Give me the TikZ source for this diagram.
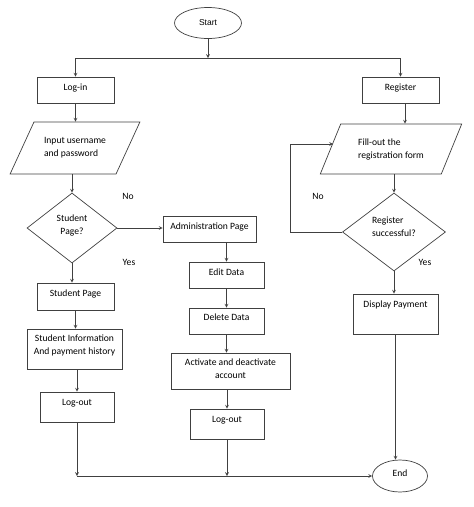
\documentclass[tikz,border=0pt]{standalone}
\RequirePackage{fontspec}
\RequirePackage{tikz}
\setmainfont{Carlito}
\newfontfamily\startfont{Liberation Sans}
\usetikzlibrary{shapes.geometric}

\tikzset{
    txt/.style={font=\fontsize{9.6pt}{13pt}\selectfont},
    box/.style={txt,draw=black!75,line width=0.7pt,rectangle,inner sep=0pt,align=center},
    para/.style={txt,draw=black!75,line width=0.7pt,trapezium,trapezium stretches=true,inner sep=0pt,align=left},
    choice/.style={txt,draw=black!75,line width=0.7pt,diamond,inner sep=0pt},
    term/.style={txt,draw=black!75,line width=0.7pt,ellipse,inner sep=0pt},
    flow/.style={->,draw=black!75,line width=0.7pt}
}

\begin{document}
\begin{tikzpicture}[>=stealth,x=1pt,y=-1pt]
                        \useasboundingbox (0,0) rectangle (474,507);
                        \node[term,minimum width=67pt,minimum height=31pt,font=\startfont\fontsize{8.5pt}{10pt}\selectfont] (start) at (208,23) {Start};
                        \coordinate (split) at (208,58);
                        \node[box,minimum width=77pt,minimum height=26pt,text depth=6pt] (login) at (75.5,90) {Log-in};
                        \node[box,minimum width=77pt,minimum height=26pt,text depth=6pt] (register) at (400.5,90) {Register};
                        \node[para,minimum width=130pt,minimum height=52pt,trapezium left angle=49,trapezium right angle=131] (input) at (75,148) {Input username\\and password};
                        \node[para,minimum width=142pt,minimum height=50pt,trapezium left angle=58,trapezium right angle=122] (fill) at (391,149) {Fill-out the\\registration form};
                        \node[choice,align=center,minimum width=90pt,minimum height=70pt,text depth=7pt] (sp) at (72,228) {Student\\Page?};
                        \node[choice,align=left,minimum width=103pt,minimum height=78pt,text depth=11pt] (rs) at (394,232) {Register\\successful?};
                        \node[box,minimum width=93pt,minimum height=26pt,text depth=6pt] (admin) at (209.5,229) {Administration Page};
                        \node[box,minimum width=75pt,minimum height=26pt,text depth=6pt] (edit) at (226.5,275) {Edit Data};
                        \node[box,minimum width=75pt,minimum height=26pt,text depth=8pt] (delete) at (226.5,321) {Delete Data};
                        \node[box,minimum width=119pt,minimum height=36pt,text depth=5pt] (activate) at (230.5,371) {Activate and deactivate\\account};
                        \node[box,minimum width=74pt,minimum height=30pt,text depth=10pt] (logoutB) at (227,424) {Log-out};
                        \node[box,minimum width=77pt,minimum height=27pt,text depth=7pt] (studentpage) at (75.5,296.5) {Student Page};
                        \node[box,minimum width=95pt,minimum height=40pt,text depth=9pt] (info) at (74.5,349) {Student Information\\And payment history};
                        \node[box,minimum width=74pt,minimum height=30pt,text depth=10pt] (logoutA) at (77,407) {Log-out};
                        \node[box,minimum width=85pt,minimum height=40pt,text depth=20pt] (display) at (395.5,314) {Display Payment};
                        \node[term,minimum width=55pt,minimum height=32pt,text depth=6pt] (end) at (400,476) {End};
                        \coordinate (joinA) at (77,476);
                        \coordinate (joinB) at (227,476);
                        \coordinate (loop) at (290,232);
                        \node[txt] (noA) at (128,196) {No};
                        \node[txt] (yesA) at (129,262) {Yes};
                        \node[txt] (noB) at (318,196) {No};
                        \node[txt] (yesB) at (425,262) {Yes};
                        \draw[flow] (start) -- (split);
                        \draw[flow] (split) -| (login);
                        \draw[flow] (split) -| (register);
                        \draw[flow] (login) -- (login |- input.north);
                        \draw[flow] (input.south -| sp.north) -- (sp.north);
                        \draw[flow] (sp.east) -- (sp.east -| admin.west);
                        \draw[flow] (sp.south) -- (sp.south |- studentpage.north);
                        \draw[flow] (studentpage.south) -- (studentpage.south |- info.north);
                        \draw[flow] (logoutA.north |- info.south) -- (logoutA.north);
                        \draw[flow] (logoutA) -- (joinA);
                        \draw[flow] (joinA) -- (end);
                        \draw[flow] (edit.north |- admin.south) -- (edit.north);
                        \draw[flow] (edit) -- (delete);
                        \draw[flow] (delete.south) -- (delete.south |- activate.north);
                        \draw[flow] (logoutB.north |- activate.south) -- (logoutB.north);
                        \draw[flow] (logoutB) -- (joinB);
                        \draw[flow] ([xshift=4.5pt]register.south) -- ([xshift=4.5pt]register.south |- fill.north);
                        \draw[flow] (rs.north |- fill.south) -- (rs.north);
                        \draw[flow] (rs.south) -- (rs.south |- display.north);
                        \draw[flow] (display.south) -- (display.south |- end.north);
                        \draw[flow] (rs.west) -- (loop) |- ([xshift=3pt,yshift=5pt]fill.west);
\end{tikzpicture}
\end{document}
